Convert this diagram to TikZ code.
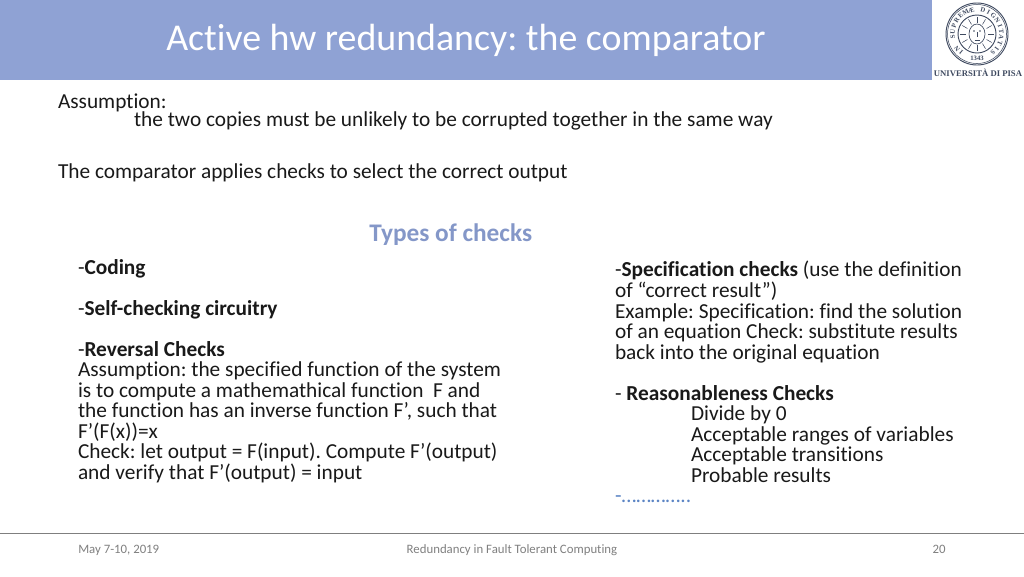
\documentclass[tikz,border=0pt]{standalone}
\usepackage{fontspec}
\usetikzlibrary{calc}
\setmainfont[Ligatures=NoCommon]{Carlito}
\newfontfamily\logofont{Liberation Serif}
\definecolor{band}{HTML}{8FA2D4}
\definecolor{head}{HTML}{8497C8}
\definecolor{foot}{HTML}{7F7F7F}
\definecolor{dots}{HTML}{5B84C4}
\definecolor{logoink}{HTML}{3F4A60}
\frenchspacing
\tikzset{
  line/.style={anchor=base west,inner sep=0pt,outer sep=0pt,font=\fontsize{16}{19}\selectfont,text=black!90},
  footer/.style={anchor=base,inner sep=0pt,font=\fontsize{9.6}{11}\selectfont,text=foot},
  seal/.style={logoink,line width=0.7pt},
  sealtext/.style={inner sep=0pt,font=\logofont\bfseries\fontsize{5}{6}\selectfont,text=logoink}
}
\begin{document}
\begin{tikzpicture}[x=0.75pt,y=-0.75pt]
\useasboundingbox (0,0) rectangle (1024,576);
\fill[band] (0,0) rectangle (932,80);
\node[anchor=base west,inner sep=0pt,text=white,font=\fontsize{28.4}{32}\selectfont] (title) at (166,50) {Active hw redundancy: the comparator};
\node[line] (a1) at (58,108) {Assumption:};
\node[line] (a2) at (134,126.6) {the two copies must be unlikely to be corrupted together in the same way};
\node[line] (a3) at (58,178.6) {The comparator applies checks to select the correct output};
\node[anchor=base west,inner sep=0pt,text=head,font=\fontsize{19}{23}\selectfont\bfseries] (types) at (369,241.4) {Types of checks};
\node[line] (l1) at (78,274) {-\textbf{Coding}};
\node[line] (l2) at (78,315) {-\textbf{Self-checking circuitry}};
\node[line] (l3) at (78,356) {-\textbf{Reversal Checks}};
\node[line] (l4) at (78,376.5) {Assumption: the specified function of the system};
\node[line] (l5) at (78,397) {is to compute a mathemathical function\ \ F and};
\node[line] (l6) at (78,417.5) {the function has an inverse function F’, such that};
\node[line] (l7) at (78,438) {F’(F(x))=x};
\node[line] (l8) at (78,458.5) {Check: let output = F(input). Compute F’(output)};
\node[line] (l9) at (78,479) {and verify that F’(output) = input};
\node[line] (r1) at (615,276.8) {-\textbf{Specification checks} (use the definition};
\node[line] (r2) at (615,297.6) {of “correct result”)};
\node[line] (r3) at (615,318) {Example: Specification: find the solution};
\node[line] (r4) at (615,338.5) {of an equation Check: substitute results};
\node[line] (r5) at (615,359) {back into the original equation};
\node[line] (r6) at (615,400) {- \textbf{Reasonableness Checks}};
\node[line] (r7) at (691,420.5) {Divide by 0};
\node[line] (r8) at (691,441) {Acceptable ranges of variables};
\node[line] (r9) at (691,461.5) {Acceptable transitions};
\node[line] (r10) at (691,482) {Probable results};
\node[line,text=dots] (r11) at (615,502.5) {-…………..};
\draw[foot,line width=0.6pt] (0,533.5) -- (1024,533.5);
\node[footer,anchor=base west] (f1) at (78,553) {May 7-10, 2019};
\node[footer] (f2) at (512,553) {Redundancy in Fault Tolerant Computing};
\node[footer] (f3) at (939,553) {20};
% seal
\draw[seal] (977,34) circle (31);
\draw[seal,line width=0.4pt] (977,34) circle (29.5);
\draw[seal] (977,34) circle (19);
\foreach \ch/\i in {I/0,N/1,S/3,U/4,P/5,R/6,E/7,M/8,Æ/9,D/11,I/12,G/13,N/14,I/15,T/16,A/17,T/18,I/19,S/20}
  \node[sealtext,rotate={270-(130+14*\i)}] (seal\i) at ($(977,34)+({130+14*\i}:24.5)$) {\ch};
\node[sealtext] (year) at (977,58.5) {1343};
% head in the seal
\draw[seal,line width=0.5pt] (977,34) ellipse (8 and 10);
\foreach \a in {0,30,...,330}
  \draw[seal,line width=0.4pt] (977,34) ++(\a:11) -- ++(\a:6);
\fill[logoink] (974,31) circle (0.9) (980,31) circle (0.9);
\draw[seal,line width=0.4pt] (977,32) -- (977,37) (974.5,40) -- (979.5,40);
\node[anchor=base,inner sep=0pt,font=\logofont\bfseries\fontsize{6.5}{8}\selectfont,text=logoink] (logo) at (978,76) {UNIVERSITÀ DI PISA};
\end{tikzpicture}
\end{document}
